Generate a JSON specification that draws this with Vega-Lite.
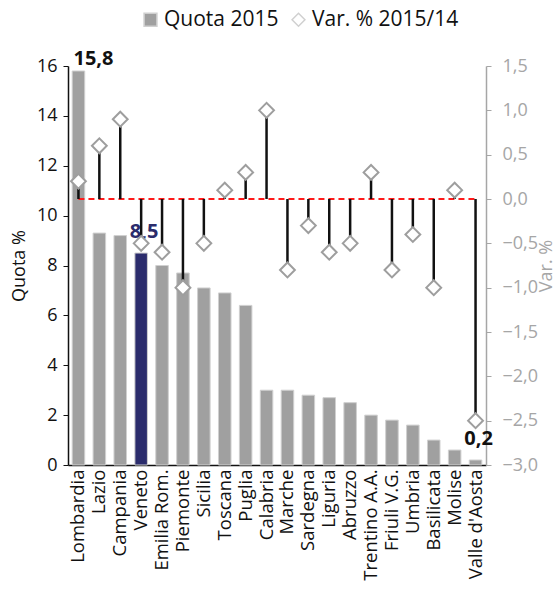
{
  "$schema": "https://vega.github.io/schema/vega-lite/v6.json",
  "width": 418,
  "height": 399,
  "autosize": {"type": "none"},
  "padding": {"left": 68, "top": 66, "right": 72, "bottom": 125},
  "config": {
    "locale": {"number": {"decimal": ",", "thousands": ".", "grouping": [3], "currency": ["€", ""]}},
    "view": {"stroke": null},
    "font": "Open Sans",
    "axis": {"grid": false},
    "legend": {
      "title": null,
      "orient": "none",
      "legendX": 72,
      "legendY": -57,
      "direction": "horizontal",
      "labelFontSize": 21,
      "labelColor": "#111111",
      "labelOffset": 3,
      "columnPadding": 9,
      "symbolSize": 165,
      "symbolStrokeWidth": 1.5
    }
  },
  "data": {
    "values": [
      {"regione": "Lombardia", "quota": 15.8, "var": 0.2},
      {"regione": "Lazio", "quota": 9.3, "var": 0.6},
      {"regione": "Campania", "quota": 9.2, "var": 0.9},
      {"regione": "Veneto", "quota": 8.5, "var": -0.5},
      {"regione": "Emilia Rom.", "quota": 8.0, "var": -0.6},
      {"regione": "Piemonte", "quota": 7.7, "var": -1.0},
      {"regione": "Sicilia", "quota": 7.1, "var": -0.5},
      {"regione": "Toscana", "quota": 6.9, "var": 0.1},
      {"regione": "Puglia", "quota": 6.4, "var": 0.3},
      {"regione": "Calabria", "quota": 3.0, "var": 1.0},
      {"regione": "Marche", "quota": 3.0, "var": -0.8},
      {"regione": "Sardegna", "quota": 2.8, "var": -0.3},
      {"regione": "Liguria", "quota": 2.7, "var": -0.6},
      {"regione": "Abruzzo", "quota": 2.5, "var": -0.5},
      {"regione": "Trentino A.A.", "quota": 2.0, "var": 0.3},
      {"regione": "Friuli V.G.", "quota": 1.8, "var": -0.8},
      {"regione": "Umbria", "quota": 1.6, "var": -0.4},
      {"regione": "Basilicata", "quota": 1.0, "var": -1.0},
      {"regione": "Molise", "quota": 0.6, "var": 0.1},
      {"regione": "Valle d'Aosta", "quota": 0.2, "var": -2.5}
    ]
  },
  "encoding": {
    "x": {
      "field": "regione",
      "type": "nominal",
      "sort": null,
      "scale": {"paddingInner": 0.4, "paddingOuter": 0.2},
      "axis": {
        "title": null,
        "labelAngle": -90,
        "labelFontSize": 18.5,
        "labelColor": "#111111",
        "labelPadding": 4,
        "ticks": false,
        "domainColor": "#111111",
        "domainWidth": 1.5
      }
    }
  },
  "layer": [
    {
      "layer": [
        {
          "mark": {"type": "bar", "stroke": "#d0d0d0", "strokeWidth": 1},
          "encoding": {
            "y": {
              "field": "quota",
              "type": "quantitative",
              "scale": {"domain": [0, 16], "nice": false},
              "axis": {
                "orient": "left",
                "title": "Quota %",
                "titleFontSize": 18,
                "titleFontWeight": "normal",
                "titleColor": "#111111",
                "titlePadding": 8,
                "values": [0, 2, 4, 6, 8, 10, 12, 14, 16],
                "labelFontSize": 18,
                "labelColor": "#111111",
                "labelPadding": 6,
                "tickColor": "#111111",
                "tickSize": 5,
                "domainColor": "#111111",
                "domainWidth": 1.5
              }
            },
            "fill": {
              "condition": {"test": "datum.regione === 'Veneto'", "value": "#2b2c6c"},
              "datum": "Quota 2015",
              "type": "nominal",
              "scale": {"domain": ["Quota 2015", "Var. % 2015/14"], "range": ["#a0a0a0", "#ffffff"]}
            }
          }
        },
        {
          "transform": [{"filter": "datum.regione === 'Lombardia'"}],
          "mark": {"type": "text", "baseline": "bottom", "dx": 15, "dy": -2, "fontSize": 20, "fontWeight": "bold", "color": "#111111"},
          "encoding": {
            "y": {"field": "quota", "type": "quantitative"},
            "text": {"field": "quota", "type": "quantitative", "format": ".1f"}
          }
        },
        {
          "transform": [{"filter": "datum.regione === 'Veneto' || datum.regione === \"Valle d'Aosta\""}],
          "mark": {"type": "text", "baseline": "bottom", "dx": 3, "dy": -11, "fontSize": 20, "fontWeight": "bold"},
          "encoding": {
            "y": {"field": "quota", "type": "quantitative"},
            "text": {"field": "quota", "type": "quantitative", "format": ".1f"},
            "color": {
              "condition": {"test": "datum.regione === 'Veneto'", "value": "#2b2c6c"},
              "value": "#111111"
            }
          }
        }
      ]
    },
    {
      "layer": [
        {
          "mark": {"type": "line", "color": "#ff1a1a", "strokeWidth": 2, "strokeDash": [6, 4]},
          "encoding": {
            "y": {
              "datum": 0,
              "type": "quantitative",
              "scale": {"domain": [-3, 1.5], "nice": false},
              "axis": {
                "orient": "right",
                "title": "Var. %",
                "titleAngle": 270,
                "titleFontSize": 18,
                "titleFontWeight": "normal",
                "titleColor": "#a6a6a6",
                "titlePadding": 18,
                "values": [-3, -2.5, -2, -1.5, -1, -0.5, 0, 0.5, 1, 1.5],
                "format": ".1f",
                "labelFontSize": 18,
                "labelColor": "#a6a6a6",
                "labelPadding": 11,
                "tickColor": "#a6a6a6",
                "tickSize": 5,
                "domainColor": "#a6a6a6",
                "domainWidth": 1.5
              }
            }
          }
        },
        {
          "mark": {"type": "rule", "color": "#111111", "strokeWidth": 2.5},
          "encoding": {
            "y": {"field": "var", "type": "quantitative"},
            "y2": {"datum": 0}
          }
        },
        {
          "mark": {"type": "point", "size": 220, "filled": true, "stroke": "#9e9e9e", "strokeWidth": 2, "opacity": 1},
          "encoding": {
            "y": {"field": "var", "type": "quantitative"},
            "fill": {"datum": "Var. % 2015/14", "type": "nominal"},
            "shape": {
              "datum": "Var. % 2015/14",
              "type": "nominal",
              "scale": {"domain": ["Quota 2015", "Var. % 2015/14"], "range": ["square", "diamond"]}
            }
          }
        }
      ]
    }
  ],
  "resolve": {"scale": {"y": "independent"}}
}
